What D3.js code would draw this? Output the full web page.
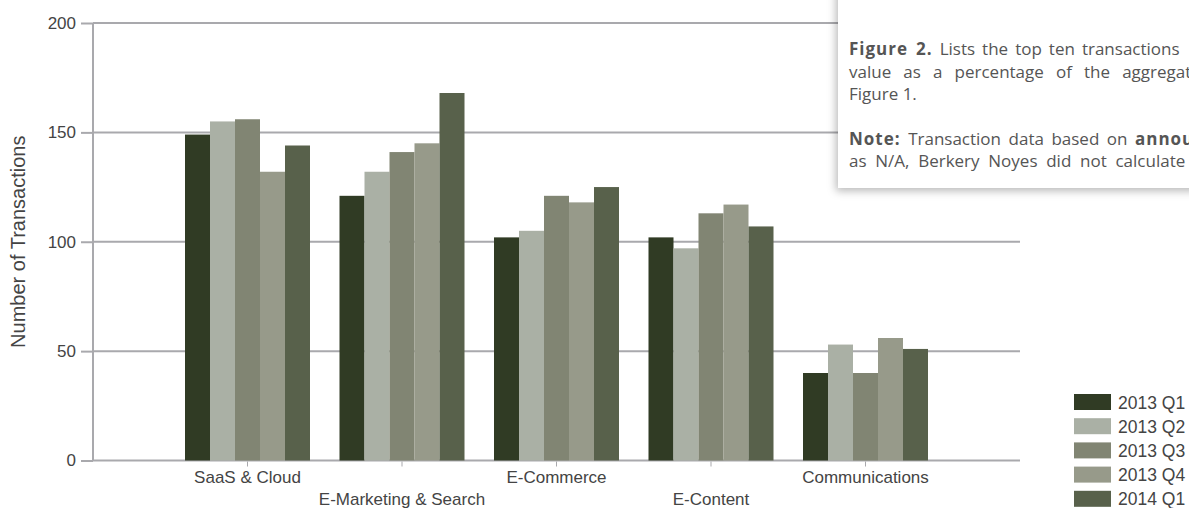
<!DOCTYPE html>
<html>
<head>
<meta charset="utf-8">
<script src="https://cdn.jsdelivr.net/npm/d3@7/dist/d3.min.js"></script>
<style>
    body { margin: 0; background: #fff; }
    svg { display: block; }
</style>
</head>
<body>
<script>
// - - - - - - - - - -
// data
// - - - - - - - - - -
const categories = ['SaaS & Cloud', 'E-Marketing & Search', 'E-Commerce', 'E-Content', 'Communications'];
const seriesNames = ['2013 Q1', '2013 Q2', '2013 Q3', '2013 Q4', '2014 Q1'];
const q1_2013 = [149, 121, 102, 102, 40];
const q2_2013 = [155, 132, 105, 97, 53];
const q3_2013 = [156, 141, 121, 113, 40];
const q4_2013 = [132, 145, 118, 117, 56];
const q1_2014 = [144, 168, 125, 107, 51];
const yTicks = [0, 50, 100, 150, 200];
const colors = ['#303b24', '#aab0a5', '#818573', '#979a8a', '#58614b'];

const series = [q1_2013, q2_2013, q3_2013, q4_2013, q1_2014];

// - - - - - - - - - -
// layout
// - - - - - - - - - -
const W = 1189, H = 508;
const plotLeft = 93, plotRight = 1020, plotTop = 23, plotBottom = 460.5;
const gridColor = '#a9a9ad';
const textColor = '#444';

const svg = d3.select('body').append('svg')
    .attr('width', W)
    .attr('height', H);

const x0 = d3.scalePoint().domain(categories).range([plotLeft, plotRight]).padding(1);
const x1 = d3.scaleBand().domain(seriesNames).range([-62.5, 62.5]);
const y = d3.scaleLinear().domain([0, 200]).range([plotBottom, plotTop]);

// gridlines + y axis
const yAxis = d3.axisLeft(y).tickValues(yTicks).tickSize(12).tickPadding(5);
const gy = svg.append('g').attr('transform', `translate(${plotLeft},0)`).call(yAxis);
gy.select('.domain').remove();
gy.selectAll('.tick line').attr('stroke', gridColor).attr('stroke-width', 2);
gy.selectAll('.tick text')
    .attr('fill', textColor)
    .style('font-family', '"Liberation Sans", Arial, sans-serif')
    .style('font-size', '17px');

svg.append('g').selectAll('line')
    .data(yTicks)
    .join('line')
    .attr('x1', plotLeft).attr('x2', plotRight)
    .attr('y1', d => y(d)).attr('y2', d => y(d))
    .attr('stroke', gridColor).attr('stroke-width', 2);

svg.append('line')
    .attr('x1', plotLeft).attr('x2', plotLeft)
    .attr('y1', y(200)).attr('y2', y(0))
    .attr('stroke', gridColor).attr('stroke-width', 2);

// bars
const groups = svg.append('g').selectAll('g')
    .data(categories)
    .join('g')
    .attr('transform', d => `translate(${x0(d)},0)`);

groups.selectAll('rect')
    .data((d, i) => seriesNames.map((s, j) => ({ s: s, v: series[j][i], c: colors[j] })))
    .join('rect')
    .attr('x', d => x1(d.s))
    .attr('width', x1.bandwidth())
    .attr('y', d => y(d.v))
    .attr('height', d => y(0) - y(d.v))
    .attr('fill', d => d.c);

// x axis: ticks + staggered labels
const xAxis = svg.append('g');
xAxis.selectAll('line')
    .data(categories)
    .join('line')
    .attr('x1', d => x0(d)).attr('x2', d => x0(d))
    .attr('y1', plotBottom + 1).attr('y2', plotBottom + 6)
    .attr('stroke', gridColor).attr('stroke-width', 1);

xAxis.selectAll('text')
    .data(categories)
    .join('text')
    .attr('x', d => x0(d))
    .attr('y', (d, i) => i % 2 ? 504.5 : 483)
    .attr('text-anchor', 'middle')
    .attr('fill', textColor)
    .style('font-family', '"Liberation Sans", Arial, sans-serif')
    .style('font-size', '17px')
    .text(d => d);

// y title
svg.append('text')
    .attr('transform', `translate(25,${(plotTop + plotBottom) / 2}) rotate(-90)`)
    .attr('text-anchor', 'middle')
    .attr('fill', textColor)
    .style('font-family', '"Liberation Sans", Arial, sans-serif')
    .style('font-size', '20px')
    .text('Number of Transactions');

// legend
const legend = svg.append('g').attr('transform', 'translate(1074,394)');
const li = legend.selectAll('g')
    .data(seriesNames)
    .join('g')
    .attr('transform', (d, i) => `translate(0,${i * 24.2})`);
li.append('rect')
    .attr('width', 37).attr('height', 16)
    .attr('fill', (d, i) => colors[i]);
li.append('text')
    .attr('x', 44).attr('y', 14.5)
    .attr('fill', textColor)
    .style('font-family', '"Liberation Sans", Arial, sans-serif')
    .style('font-size', '17.5px')
    .text(d => d);

// - - - - - - - - - -
// caption box (cut off at the right edge)
// - - - - - - - - - -
const defs = svg.append('defs');
const f = defs.append('filter').attr('id', 'shadow')
    .attr('x', '-10%').attr('y', '-10%').attr('width', '130%').attr('height', '130%');
f.append('feDropShadow')
    .attr('dx', -2).attr('dy', 3)
    .attr('stdDeviation', 4.5)
    .attr('flood-color', '#000')
    .attr('flood-opacity', 0.28);

svg.append('rect')
    .attr('x', 838).attr('y', -30)
    .attr('width', 420).attr('height', 218)
    .attr('fill', '#fff')
    .attr('filter', 'url(#shadow)');

// justified lines, the right part is outside the window
const captionLines = [
    { y: 55, ws: 2.6, parts: [['Figure 2.', true], [' Lists the top ten transactions', false]] },
    { y: 78, ws: 7.7, parts: [['value as a percentage of the aggregate', false]] },
    { y: 100, ws: 0, parts: [['Figure 1.', false]] },
    { y: 145, ws: 3.1, parts: [['Note:', true], [' Transaction data based on ', false], ['announced', true]] },
    { y: 167, ws: 4.3, parts: [['as N/A, Berkery Noyes did not calculate the', false]] }
];

const cap = svg.append('g')
    .style('font-family', '"Open Sans", "DejaVu Sans", sans-serif')
    .style('font-size', '17px')
    .attr('fill', '#555');

captionLines.forEach(l => {
    const t = cap.append('text')
        .attr('x', 849).attr('y', l.y)
        .attr('xml:space', 'preserve')
        .style('word-spacing', l.ws + 'px');
    l.parts.forEach(p => {
        t.append('tspan')
            .attr('font-weight', p[1] ? 'bold' : 'normal')
            .style('letter-spacing', p[1] ? '1px' : '0px')
            .text(p[0]);
    });
});
</script>
</body>
</html>
